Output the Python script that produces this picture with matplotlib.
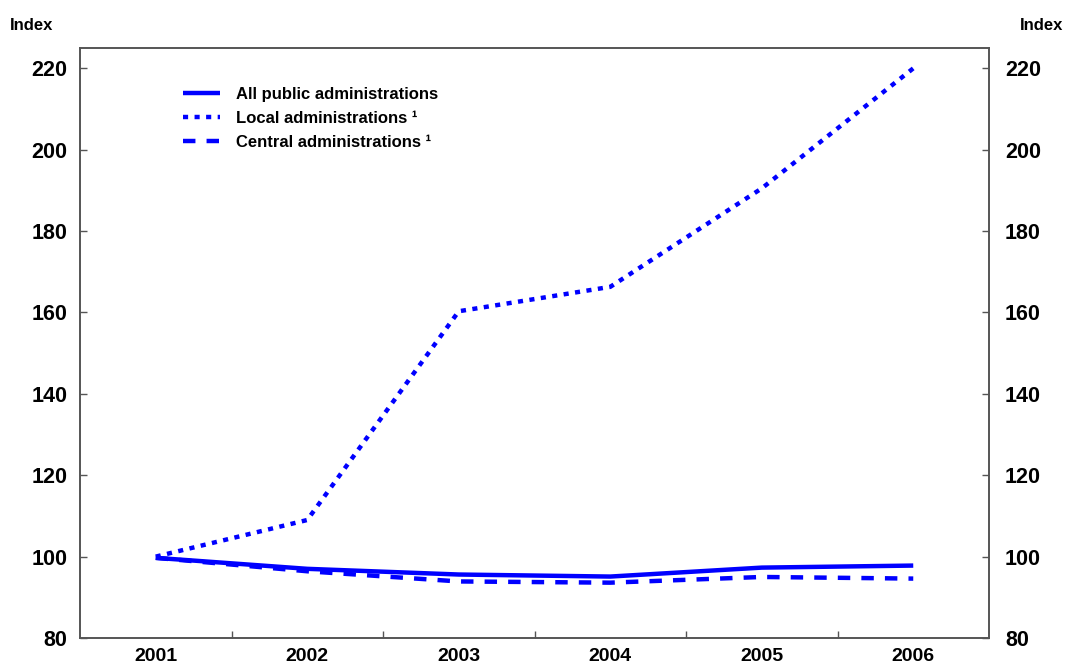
import matplotlib.pyplot as plt

plt.rcParams['font.family'] = ['Liberation Sans', 'DejaVu Sans']

years = ['2001', '2002', '2003', '2004', '2005', '2006']
all_public = [99.7, 97.0, 95.6, 95.1, 97.3, 97.8]
local_adm = [100.0, 109.0, 160.3, 166.3, 190.5, 220.0]
central_adm = [99.7, 96.4, 93.9, 93.6, 95.0, 94.6]

blue = '#0000ff'
fig = plt.figure(figsize=(10.65, 6.67), dpi=100)
ax = fig.add_axes([80/1065, 1-638/667, 909/1065, 590/667])

x = range(len(years))
lw = 3.2
ax.plot(x, all_public, color=blue, lw=lw, solid_capstyle='butt', label='All public administrations')
ax.plot(x, local_adm, color=blue, lw=lw, ls=(0, (1.15, 1.45)), dash_capstyle='butt', label='Local administrations ¹')
ax.plot(x, central_adm, color=blue, lw=lw, ls=(0, (2.8, 2.5)), dash_capstyle='butt', label='Central administrations ¹')

ax.set_xlim(-0.5, 5.5)
ax.set_ylim(80, 225)
ax.set_xticks([i + 0.5 for i in range(5)])
ax.set_xticklabels([])
ax.set_xticks(list(x), minor=True)
ax.set_xticklabels(years, minor=True)
ax.tick_params(axis='x', which='major', direction='in', length=5, width=1, color='#555555')
ax.tick_params(axis='x', which='minor', length=0, pad=7.5, labelsize=14)
for lbl in ax.get_xticklabels(minor=True):
    lbl.set_fontweight('bold')

yt = list(range(80, 221, 20))
ax.set_yticks(yt)
ax.tick_params(axis='y', direction='in', length=5, width=1, color='#555555',
               labelsize=15.5, pad=9)
for lbl in ax.get_yticklabels():
    lbl.set_fontweight('bold')

ax2 = ax.twinx()
ax2.set_ylim(ax.get_ylim())
ax2.set_yticks(yt)
ax2.tick_params(axis='y', direction='in', length=5, width=1, color='#555555',
                labelsize=15.5, pad=11.5)
for lbl in ax2.get_yticklabels():
    lbl.set_fontweight('bold')

for a in (ax, ax2):
    for s in a.spines.values():
        s.set_color('#555555')
        s.set_linewidth(1.2)

fig.text(10/1065, 1-25/667, 'Index', fontsize=12, fontweight='bold', va='center', ha='left')
fig.text(1063/1065, 1-25/667, 'Index', fontsize=12, fontweight='bold', va='center', ha='right')

leg = ax.legend(loc='upper left', bbox_to_anchor=(103/909, 1-(87-48)/590), frameon=False,
                prop={'size': 12, 'weight': 'bold'}, handlelength=2.2,
                handletextpad=0.95, labelspacing=0.53, borderpad=0, borderaxespad=0)

fig.savefig('out.png', dpi=100)
